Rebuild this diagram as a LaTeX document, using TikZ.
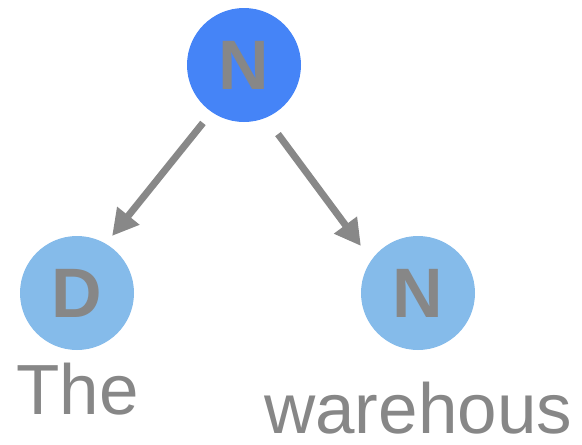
\documentclass[tikz,border=0pt]{standalone}
\usepackage{fontspec}
\setmainfont{Liberation Sans}
\usetikzlibrary{arrows.meta,calc}
\definecolor{topblue}{HTML}{4584F7}
\definecolor{leafblue}{HTML}{85BBEA}
\definecolor{txtgrey}{HTML}{878787}
\definecolor{arrgrey}{HTML}{888888}
\begin{document}
\begin{tikzpicture}[x=1pt,y=-1pt,
  tnode/.style={circle,inner sep=0pt,minimum size=114pt,text=txtgrey,
    font=\fontsize{70}{84}\selectfont\bfseries},
  word/.style={anchor=base west,inner sep=0pt,text=txtgrey,
    font=\fontsize{71}{84}\selectfont},
  arr/.style={draw=arrgrey,line width=7pt,-{Triangle[length=26pt,width=27pt]}}]
\useasboundingbox (0,0) rectangle (582,445);
\node[tnode,fill=topblue] (top) at (244,65) {N};
\node[tnode,fill=leafblue] (d) at (77,293) {D};
\node[tnode,fill=leafblue] (n) at (418,293) {N};
\node[word] (the) at (16,414) {The};
\node[word] (wh) at (264,433) {warehous};
\draw[arr] ($(top)+(234.7:71pt)$) -- ($(d)+(58.4:67pt)$);
\draw[arr] ($(top)+(296.2:77pt)$) -- ($(n)+(140.5:74pt)$);
\end{tikzpicture}
\end{document}
